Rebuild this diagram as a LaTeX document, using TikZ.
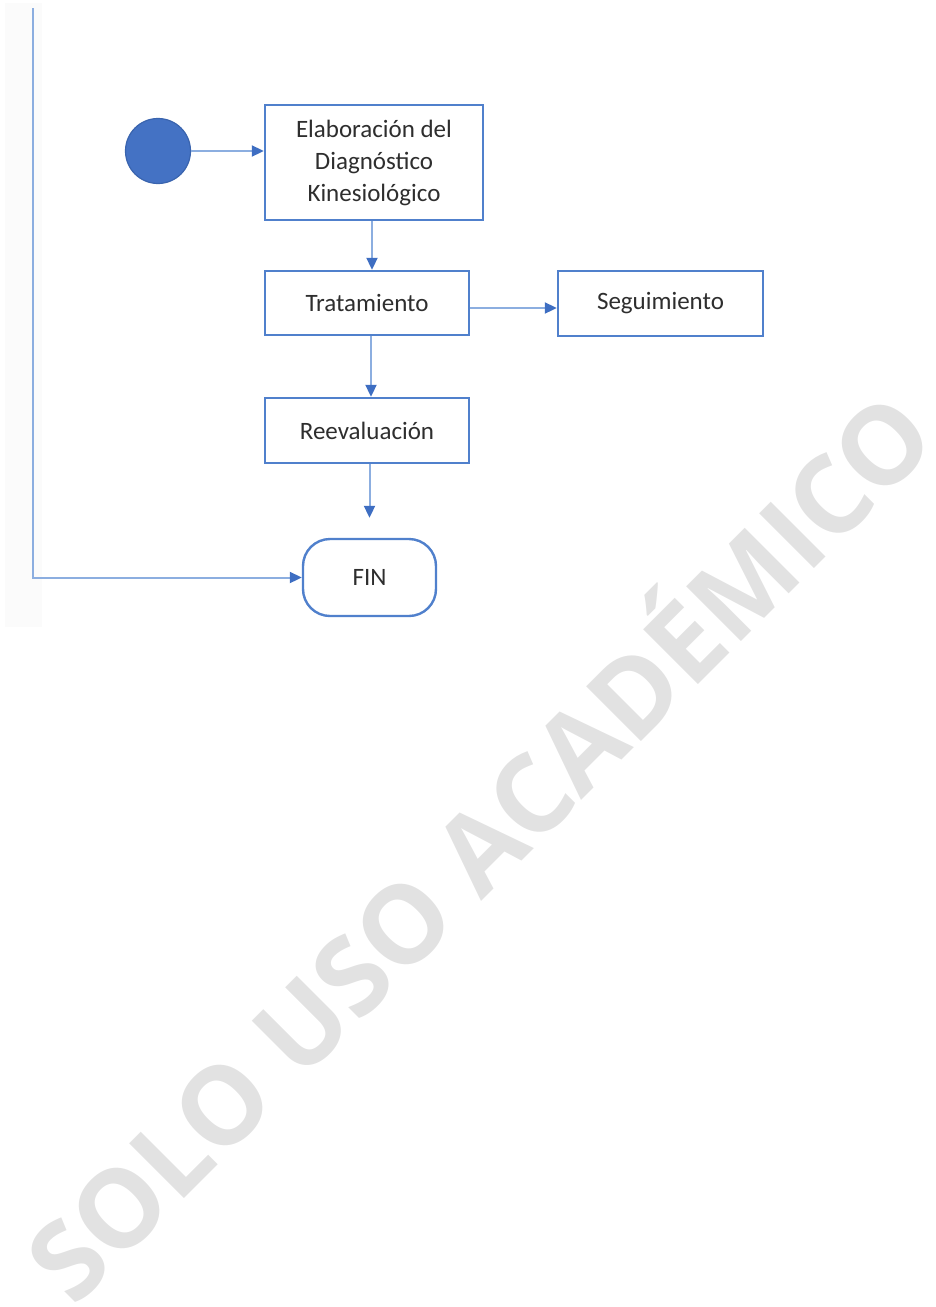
\documentclass[tikz,border=0pt]{standalone}
\usepackage{fontspec}
\setmainfont{Carlito}
\newfontfamily\wmfont{Open Sans}
\usetikzlibrary{arrows.meta}
\definecolor{boxline}{HTML}{5080CC}
\definecolor{conline}{HTML}{8CAEE0}
\definecolor{tipcol}{HTML}{3E6EC2}
\definecolor{startfill}{HTML}{4472C4}
\definecolor{startline}{HTML}{3A64AE}
\definecolor{txtcol}{HTML}{2E2E2E}
\definecolor{wmcol}{HTML}{E2E2E2}
\definecolor{stripcol}{HTML}{FBFBFB}
\tikzset{
  procbox/.style={draw=boxline, line width=2.4pt, fill=white, inner sep=0pt,
    text=txtcol, font=\fontsize{25}{32}\selectfont, align=center},
  termbox/.style={procbox, rounded corners=27pt},
  conn/.style={draw=conline, line width=2pt,
    -{Triangle[length=12pt,width=11pt,color=tipcol]}},
}
\begin{document}
\begin{tikzpicture}[x=1pt,y=-1pt]
\useasboundingbox (0,0) rectangle (936,1307);
\fill[stripcol] (5,3) rectangle (42,627);
% watermark
\node[rotate=45, inner sep=0pt, text=wmcol, font=\wmfont\bfseries] (wm) at (480,848)
  {\resizebox{1225pt}{!}{SOLO USO ACAD\smash{É}MICO}};
% nodes
\node[circle, fill=startfill, draw=startline, line width=1.2pt, minimum size=65pt, inner sep=0pt] (start) at (158,151) {};
\node[procbox, minimum width=218pt, minimum height=115pt] (diag) at (374,162.5)
  {Elaboración del\\Diagnóstico\\Kinesiológico};
\node[procbox, minimum width=204pt, minimum height=64pt] (trat) at (367,303) {Tratamiento};
\node[procbox, minimum width=205pt, minimum height=65pt] (seg) at (660.5,303.5) {Seguimiento};
\node[procbox, minimum width=204pt, minimum height=65pt] (reev) at (367,430.5) {Reevaluación};
\node[termbox, minimum width=133pt, minimum height=77pt] (fin) at (369.5,577.5) {FIN};
\coordinate (topleft) at (33,8);
% connectors
\draw[conn] (start.east) -- (start.east -| diag.west);
\draw[conn] ([xshift=-2pt]diag.south) -- ([xshift=-2pt]diag.south |- trat.north);
\draw[conn] ([yshift=-5pt]trat.east) -- ([yshift=-5pt]trat.east -| seg.west);
\draw[conn] ([xshift=4pt]trat.south) -- ([xshift=4pt]trat.south |- reev.north);
\draw[conn] (reev.south -| fin.north) -- ([yshift=20pt]fin.north);
\draw[conn] (topleft) |- (fin.west);
\end{tikzpicture}
\end{document}
